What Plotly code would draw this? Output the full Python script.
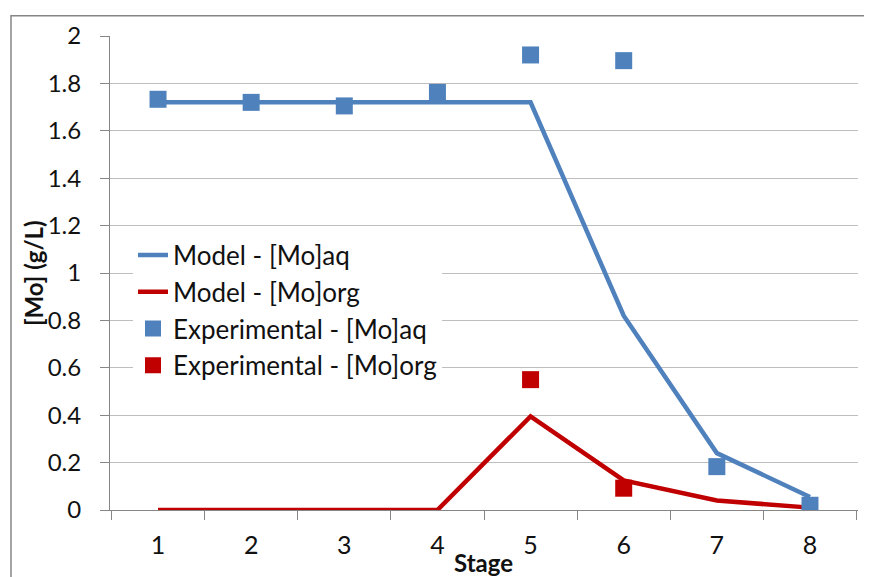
import plotly.graph_objects as go

stages = ["1", "2", "3", "4", "5", "6", "7", "8"]
model_aq = [1.72, 1.72, 1.72, 1.72, 1.72, 0.82, 0.24, 0.055]
model_org = [0.0, 0.0, 0.0, 0.0, 0.395, 0.125, 0.04, 0.01]
exp_aq = [1.733, 1.72, 1.705, 1.762, 1.92, 1.896, 0.183, 0.02]
exp_org = [None, None, None, None, 0.55, 0.092, None, None]

BLUE = "#4F81BD"
RED = "#C00000"
FONT = "Lato"
GRAY = "#868686"

fig = go.Figure()
fig.add_trace(go.Scatter(x=stages, y=model_aq, mode="lines", name="Model - [Mo]aq",
                         line=dict(color=BLUE, width=4.5)))
fig.add_trace(go.Scatter(x=stages, y=model_org, mode="lines", name="Model - [Mo]org",
                         line=dict(color=RED, width=4.5)))
fig.add_trace(go.Scatter(x=stages, y=exp_aq, mode="markers", name="Experimental - [Mo]aq",
                         marker=dict(color=BLUE, symbol="square", size=17)))
fig.add_trace(go.Scatter(x=stages, y=exp_org, mode="markers", name="Experimental - [Mo]org",
                         marker=dict(color=RED, symbol="square", size=17)))

OFF = 8  # page body margin
W, H = 864, 569
L, R, T, B = 102, 14, 22, 67
pw, ph = W - L - R, H - T - B

def px_x(sx):
    return (sx - OFF - L) / pw

def px_y(sy):
    return (H - B - (sy - OFF)) / ph

fig.update_layout(
    width=W, height=H,
    margin=dict(l=L, r=R, t=T, b=B),
    paper_bgcolor="white", plot_bgcolor="white",
    font=dict(family=FONT, size=25, color="#111111"),
    showlegend=True,
    legend=dict(x=px_x(133), y=px_y(228), xanchor="left", yanchor="top",
                bgcolor="white", font=dict(size=26, family=FONT),
                tracegroupgap=0, itemwidth=30),
    xaxis=dict(type="category", tickson="boundaries", ticks="outside", ticklen=9,
               tickcolor=GRAY, showline=True, linecolor=GRAY, linewidth=1,
               showgrid=False, tickfont=dict(size=25), zeroline=False,
               ticklabelstandoff=13),
    yaxis=dict(range=[0, 2], dtick=0.2, ticks="outside", ticklen=9, tickcolor=GRAY,
               showline=True, linecolor=GRAY, linewidth=1, gridcolor="#BEBEBE",
               gridwidth=1, tickfont=dict(size=24), zeroline=False,
               tickformat="~g", ticklabelstandoff=14),
    annotations=[
        dict(text="<b>Stage</b>", xref="paper", yref="paper", x=px_x(483), y=px_y(563),
             xanchor="center", yanchor="middle", showarrow=False, font=dict(size=24)),
        dict(text="<b>[Mo] (g/L)</b>", xref="paper", yref="paper", x=px_x(33), y=px_y(270),
             xanchor="center", yanchor="middle", showarrow=False, textangle=-90,
             font=dict(size=24)),
    ],
    shapes=[dict(type="rect", xref="paper", yref="paper",
                 x0=px_x(11), x1=px_x(900), y0=px_y(620), y1=px_y(9.5),
                 line=dict(color=GRAY, width=1.5), layer="below")],
)

fig.write_html("out.html")
